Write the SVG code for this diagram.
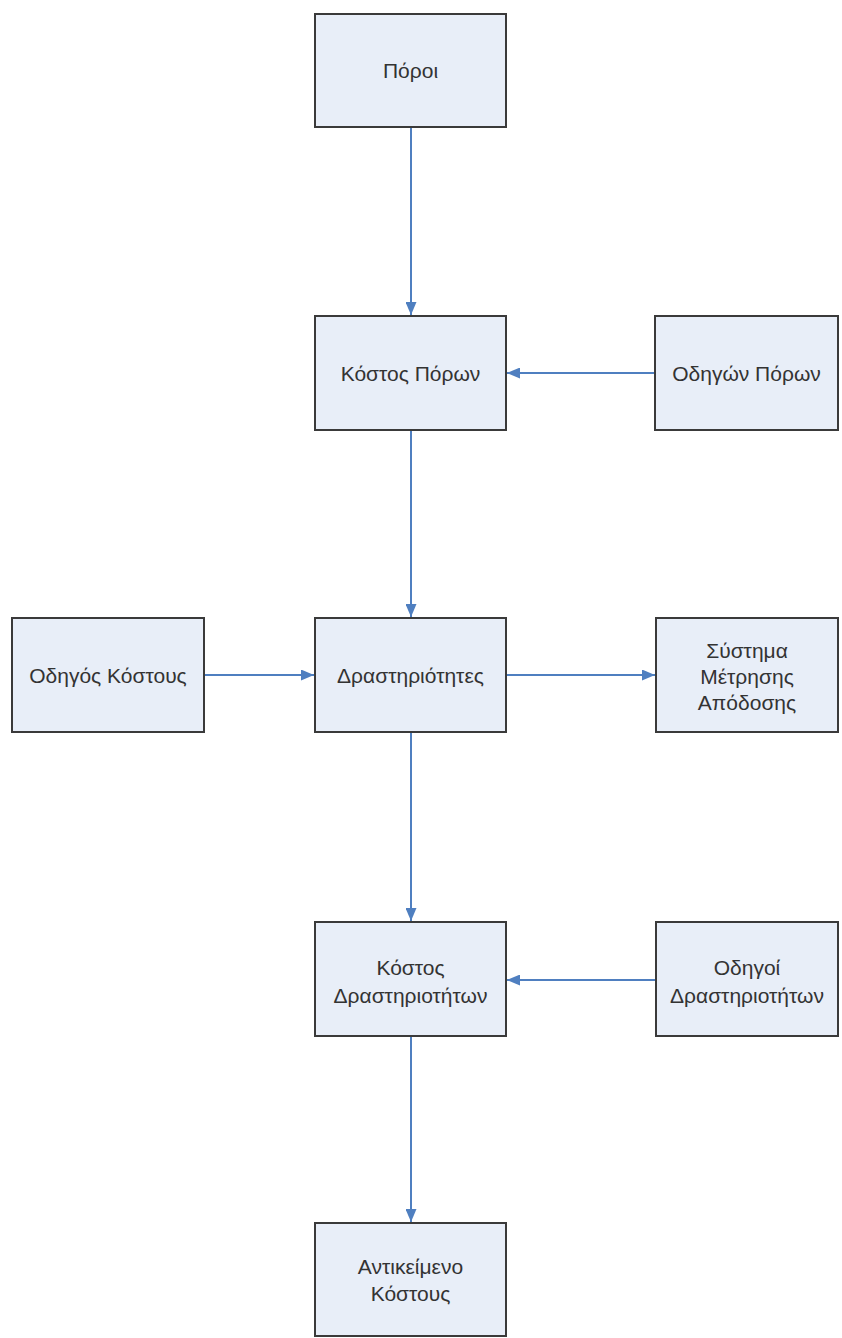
<svg xmlns="http://www.w3.org/2000/svg" width="842" height="1338" viewBox="0 0 842 1338">
<style>
.box{fill:#e8eef8;stroke:#3a3a3a;stroke-width:2}
.lbl{font-family:"Liberation Sans",Arial,sans-serif;font-size:21px;fill:#333;text-anchor:middle;dominant-baseline:central}
.con{stroke:#4f7fc0;stroke-width:2;fill:none;marker-end:url(#arr)}
</style>
<defs>
<marker id="arr" viewBox="0 0 13 11" refX="13" refY="5.5" markerWidth="13" markerHeight="11" markerUnits="userSpaceOnUse" orient="auto">
<path d="M0,0 L13,5.5 L0,11 z" fill="#4f7fc0"/>
</marker>
</defs>
<rect width="842" height="1338" fill="#fff"/>
<g id="connectors">
<line class="con" x1="411" y1="128" x2="411" y2="315"/>
<line class="con" x1="411" y1="431" x2="411" y2="617"/>
<line class="con" x1="411" y1="733" x2="411" y2="921"/>
<line class="con" x1="411" y1="1037" x2="411" y2="1222"/>
<line class="con" x1="655" y1="373" x2="507" y2="373"/>
<line class="con" x1="204" y1="675" x2="314" y2="675"/>
<line class="con" x1="507" y1="675" x2="655" y2="675"/>
<line class="con" x1="656" y1="980" x2="507" y2="980"/>
</g>
<g id="poroi"><rect class="box" x="315" y="14" width="191" height="113"/><text class="lbl" x="410.5" y="70">Πόροι</text></g>
<g id="kostos-poron"><rect class="box" x="315" y="316" width="191" height="114"/><text class="lbl" x="410.5" y="373">Κόστος Πόρων</text></g>
<g id="odigon-poron"><rect class="box" x="655" y="316" width="183" height="114"/><text class="lbl" x="746.5" y="373">Οδηγών Πόρων</text></g>
<g id="odigos-kostous"><rect class="box" x="12" y="618" width="192" height="114"/><text class="lbl" x="108" y="675">Οδηγός Κόστους</text></g>
<g id="drastiriotites"><rect class="box" x="315" y="618" width="191" height="114"/><text class="lbl" x="410.5" y="675">Δραστηριότητες</text></g>
<g id="systima"><rect class="box" x="656" y="618" width="182" height="114"/><text class="lbl" x="747" y="650">Σύστημα</text><text class="lbl" x="747" y="676">Μέτρησης</text><text class="lbl" x="747" y="702">Απόδοσης</text></g>
<g id="kostos-drast"><rect class="box" x="315" y="922" width="191" height="114"/><text class="lbl" x="410.5" y="967">Κόστος</text><text class="lbl" x="410.5" y="995">Δραστηριοτήτων</text></g>
<g id="odigoi-drast"><rect class="box" x="656" y="922" width="182" height="114"/><text class="lbl" x="747" y="967">Οδηγοί</text><text class="lbl" x="747" y="995">Δραστηριοτήτων</text></g>
<g id="antikeimeno"><rect class="box" x="315" y="1223" width="191" height="113"/><text class="lbl" x="410.5" y="1266">Αντικείμενο</text><text class="lbl" x="410.5" y="1293">Κόστους</text></g>
</svg>
